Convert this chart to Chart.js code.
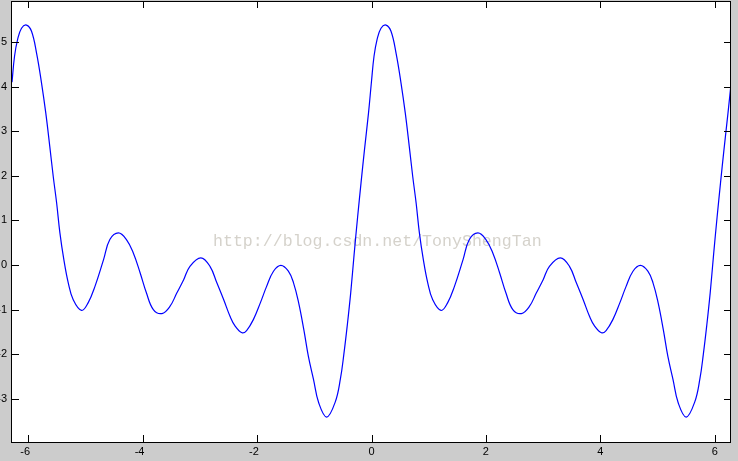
<!DOCTYPE html>
<html>
<head>
<meta charset="utf-8">
<script src="https://cdn.jsdelivr.net/npm/chart.js@4.4.0/dist/chart.umd.min.js"></script>
<style>
  html, body { margin: 0; padding: 0; background: #cccccc; }
  #wrap { width: 738px; height: 461px; }
</style>
</head>
<body>
<div id="wrap"><canvas id="c" width="738" height="461"></canvas></div>
<script>
// Values
const xValues = [
  -6.283, -6.239, -6.187, -6.117, -6.029, -5.942, -5.854, -5.767, -5.693, -5.623,
  -5.563, -5.503, -5.446, -5.377, -5.300, -5.213, -5.067, -4.953, -4.833, -4.683,
  -4.573, -4.423, -4.283, -4.163, -4.043, -3.933, -3.813, -3.663, -3.523, -3.403,
  -3.283, -3.173, -2.983, -2.823, -2.703, -2.583, -2.473, -2.383, -2.263, -2.183,
  -2.063, -1.943, -1.833, -1.713, -1.583, -1.453, -1.363, -1.273, -1.183, -1.103,
  -1.013, -0.923, -0.783, -0.633, -0.543, -0.483, -0.423, -0.363, -0.303, -0.243,
  -0.183, -0.123, -0.053,
  0.000, 0.044, 0.096, 0.166, 0.254, 0.341, 0.429, 0.516, 0.590, 0.660,
  0.720, 0.780, 0.837, 0.906, 0.983, 1.070, 1.216, 1.330, 1.450, 1.600,
  1.710, 1.860, 2.000, 2.120, 2.240, 2.350, 2.470, 2.620, 2.760, 2.880,
  3.000, 3.110, 3.300, 3.460, 3.580, 3.700, 3.810, 3.900, 4.020, 4.100,
  4.220, 4.340, 4.450, 4.570, 4.700, 4.830, 4.920, 5.010, 5.100, 5.180,
  5.270, 5.360, 5.500, 5.650, 5.740, 5.800, 5.860, 5.920, 5.980, 6.040,
  6.100, 6.160, 6.230, 6.283
];
const yValues = [
  4.10, 4.68, 5.05, 5.31, 5.38, 5.24, 4.75, 4.08, 3.41, 2.66,
  1.99, 1.39, 0.72, 0.12, -0.40, -0.78, -1.02, -0.85, -0.48, 0.12,
  0.57, 0.72, 0.57, 0.27, -0.18, -0.63, -1.00, -1.09, -0.93, -0.63,
  -0.33, -0.03, 0.16, -0.03, -0.40, -0.78, -1.15, -1.37, -1.52, -1.47,
  -1.22, -0.85, -0.48, -0.14, -0.01, -0.14, -0.40, -0.85, -1.45, -2.05,
  -2.57, -3.09, -3.41, -3.07, -2.55, -2.00, -1.35, -0.62, 0.25, 1.07,
  1.84, 2.58, 3.40,
  4.12, 4.68, 5.05, 5.31, 5.38, 5.24, 4.75, 4.08, 3.41, 2.66,
  1.99, 1.39, 0.72, 0.12, -0.40, -0.78, -1.02, -0.85, -0.48, 0.12,
  0.57, 0.72, 0.57, 0.27, -0.18, -0.63, -1.00, -1.09, -0.93, -0.63,
  -0.33, -0.03, 0.16, -0.03, -0.40, -0.78, -1.15, -1.37, -1.52, -1.47,
  -1.22, -0.85, -0.48, -0.14, -0.01, -0.14, -0.40, -0.85, -1.45, -2.05,
  -2.57, -3.09, -3.41, -3.07, -2.55, -2.00, -1.35, -0.62, 0.25, 1.07,
  1.84, 2.58, 3.40, 4.05
];
const xTickValues = [-6, -4, -2, 0, 2, 4, 6];
const yTickValues = [-3, -2, -1, 0, 1, 2, 3, 4, 5];
const xRange = [-6.2832, 6.2832];
const yRange = [-3.97, 5.92];
const watermarkText = 'http://blog.csdn.net/TonyShengTan';

const points = xValues.map((x, i) => ({ x: x, y: yValues[i] }));

const framePlugin = {
  id: 'frame',
  beforeDraw(chart) {
    const ctx = chart.ctx, a = chart.chartArea;
    ctx.save();
    ctx.fillStyle = '#cccccc';
    ctx.fillRect(0, 0, chart.width, chart.height);
    ctx.fillStyle = '#ffffff';
    ctx.fillRect(a.left, a.top, a.right - a.left, a.bottom - a.top);
    ctx.restore();
  },
  beforeDatasetsDraw(chart) {
    const ctx = chart.ctx;
    ctx.save();
    ctx.font = '16.6px "Liberation Mono", "DejaVu Sans Mono", monospace';
    ctx.fillStyle = '#d5d2cb';
    ctx.textBaseline = 'alphabetic';
    ctx.textAlign = 'left';
    ctx.fillText(watermarkText, 213, 246);
    ctx.restore();
  },
  afterDatasetsDraw(chart) {
    const ctx = chart.ctx, a = chart.chartArea;
    const xs = chart.scales.x, ys = chart.scales.y;
    const L = 7;
    ctx.save();
    ctx.strokeStyle = '#000000';
    ctx.lineWidth = 1;
    ctx.beginPath();
    xTickValues.forEach(v => {
      const px = Math.round(xs.getPixelForValue(v)) + 0.5;
      ctx.moveTo(px, a.bottom); ctx.lineTo(px, a.bottom - L);
      ctx.moveTo(px, a.top); ctx.lineTo(px, a.top + L);
    });
    yTickValues.forEach(v => {
      const py = Math.round(ys.getPixelForValue(v)) + 0.5;
      ctx.moveTo(a.left, py); ctx.lineTo(a.left + L, py);
      ctx.moveTo(a.right, py); ctx.lineTo(a.right - L, py);
    });
    ctx.stroke();
    ctx.strokeRect(Math.round(a.left) - 0.5, Math.round(a.top) + 0.5,
                   Math.round(a.right - a.left), Math.round(a.bottom - a.top));
    ctx.restore();
  }
};

new Chart(document.getElementById('c'), {
  type: 'line',
  data: {
    datasets: [{
      data: points,
      borderColor: '#0000ff',
      borderWidth: 1.2,
      pointRadius: 0,
      fill: false,
      tension: 0.4
    }]
  },
  options: {
    responsive: false,
    animation: false,
    events: [],
    layout: { padding: { top: 1, right: 7, bottom: 0, left: 0 } },
    plugins: { legend: { display: false }, tooltip: { enabled: false } },
    scales: {
      x: {
        type: 'linear',
        min: xRange[0], max: xRange[1],
        afterFit(s) { s.height = 19; s.paddingLeft = 0; s.paddingRight = 0; },
        grid: { display: false, drawTicks: false },
        border: { display: false },
        afterBuildTicks(s) { s.ticks = xTickValues.map(v => ({ value: v })); },
        ticks: {
          includeBounds: false,
          autoSkip: false, maxRotation: 0,
          padding: 3,
          color: '#000000',
          font: { family: '"Liberation Sans", Arial, sans-serif', size: 11 },
          callback: v => (v < 0 ? String(v) + '  ' : String(v))
        }
      },
      y: {
        type: 'linear',
        min: yRange[0], max: yRange[1],
        afterFit(s) { s.width = 12; s.paddingTop = 0; s.paddingBottom = 0; },
        grid: { display: false, drawTicks: false },
        border: { display: false },
        afterBuildTicks(s) { s.ticks = yTickValues.map(v => ({ value: v })); },
        ticks: {
          includeBounds: false,
          autoSkip: false,
          padding: 5,
          color: '#000000',
          font: { family: '"Liberation Sans", Arial, sans-serif', size: 11 },
          callback: v => String(v)
        }
      }
    }
  },
  plugins: [framePlugin]
});
</script>
</body>
</html>
